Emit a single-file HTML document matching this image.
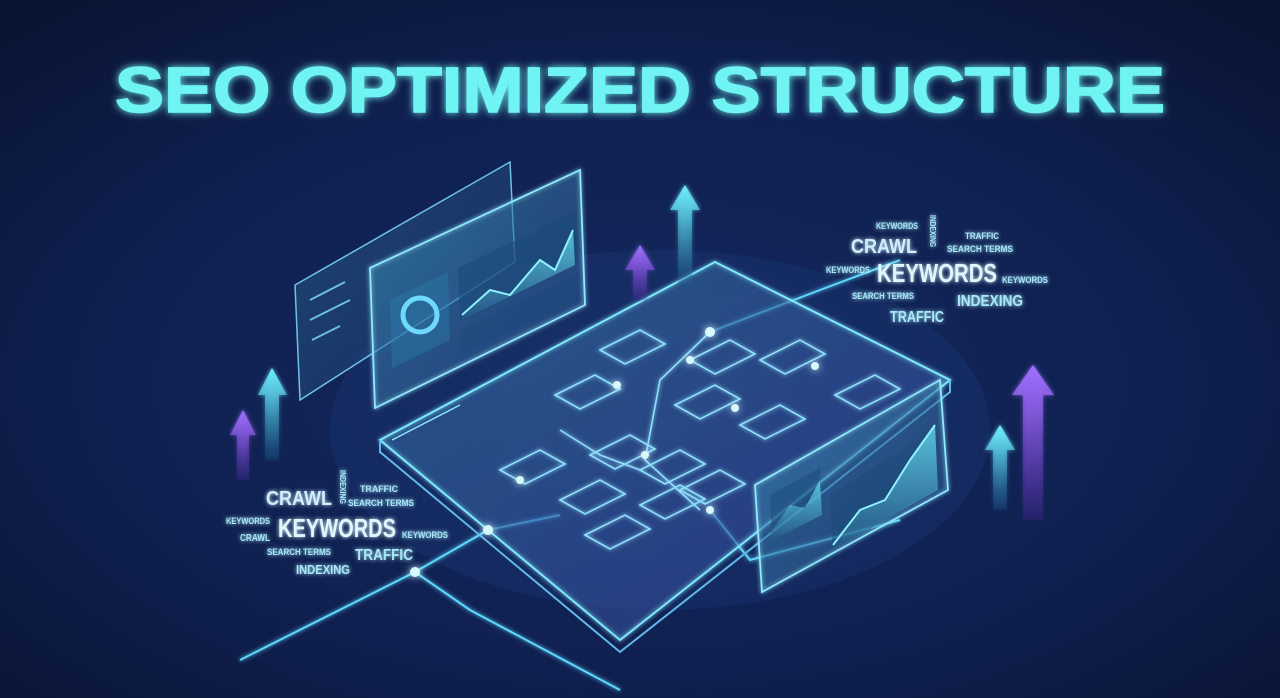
<!DOCTYPE html>
<html><head><meta charset="utf-8"><style>
html,body{margin:0;padding:0;width:1280px;height:698px;overflow:hidden;background:#0b1838}
svg{display:block}
text{font-family:"Liberation Sans",sans-serif}
</style></head><body>
<svg width="1280" height="698" viewBox="0 0 1280 698" xmlns="http://www.w3.org/2000/svg">
<defs>
<radialGradient id="bg" cx="50%" cy="55%" r="70%">
<stop offset="0" stop-color="#15295e"/><stop offset="0.6" stop-color="#0f2050"/><stop offset="1" stop-color="#0a1535"/></radialGradient>
<linearGradient id="plat" x1="0" y1="0" x2="1" y2="1"><stop offset="0" stop-color="#2a6f9a" stop-opacity=".4"/><stop offset="1" stop-color="#3a3f9a" stop-opacity=".35"/></linearGradient>
<linearGradient id="pan" x1="0" y1="0" x2="1" y2="1"><stop offset="0" stop-color="#3a8fb0" stop-opacity=".4"/><stop offset="1" stop-color="#2a4a8a" stop-opacity=".3"/></linearGradient>
<linearGradient id="arC" x1="0" y1="1" x2="0" y2="0"><stop offset="0" stop-color="#1a5a8a" stop-opacity=".2"/><stop offset="1" stop-color="#6ff0ff"/></linearGradient>
<linearGradient id="arP" x1="0" y1="1" x2="0" y2="0"><stop offset="0" stop-color="#4a2a9a" stop-opacity=".2"/><stop offset="1" stop-color="#a070ff"/></linearGradient>
<linearGradient id="chart" x1="0" y1="0" x2="0" y2="1"><stop offset="0" stop-color="#6ff0ff" stop-opacity=".7"/><stop offset="1" stop-color="#6ff0ff" stop-opacity=".05"/></linearGradient>
<filter id="glow" x="-20%" y="-50%" width="140%" height="200%"><feGaussianBlur stdDeviation="4" result="b"/><feMerge><feMergeNode in="b"/><feMergeNode in="SourceGraphic"/></feMerge></filter>
<filter id="g2"><feGaussianBlur stdDeviation="2" result="b"/><feMerge><feMergeNode in="b"/><feMergeNode in="SourceGraphic"/></feMerge></filter>
</defs>
<rect width="1280" height="698" fill="url(#bg)"/>
<ellipse cx="660" cy="430" rx="330" ry="180" fill="#2a5aa8" opacity=".15"/>
<text x="640" y="112" text-anchor="middle" font-size="64" font-weight="bold" fill="#6ff3f3" stroke="#6ff3f3" stroke-width="1.5" textLength="1050" lengthAdjust="spacingAndGlyphs" filter="url(#glow)">SEO OPTIMIZED STRUCTURE</text>

<g stroke="#5fd8ff" stroke-width="2" fill="none" filter="url(#g2)">
<path d="M240 660 L415 572 L470 610 L620 690"/>
<path d="M415 572 L488 530 L560 515"/>
<path d="M710 332 L820 290 L900 260"/>
<path d="M710 510 L750 560 L900 520"/>
</g>

<path d="M380 440 L715 262 L950 380 L620 640 Z" fill="url(#plat)" stroke="#7fe8ff" stroke-width="2" filter="url(#g2)"/>
<path d="M380 440 L380 452 L620 652 L950 392 L950 380" fill="none" stroke="#5fb8e8" stroke-width="2"/>
<path d="M392 440 L460 405" stroke="#8fe8ff" stroke-width="1.5"/>
<g fill="none" stroke="#8fe0ff" stroke-width="1.6" filter="url(#g2)">
<path d="M500 470 l40 -20 l25 14 l-40 20 z"/><path d="M560 500 l40 -20 l25 14 l-40 20 z"/>
<path d="M585 535 l40 -20 l25 14 l-40 20 z"/><path d="M590 455 l40 -20 l25 14 l-40 20 z"/>
<path d="M555 395 l40 -20 l25 14 l-40 20 z"/><path d="M600 350 l40 -20 l25 14 l-40 20 z"/>
<path d="M640 470 l40 -20 l25 14 l-40 20 z"/><path d="M680 490 l40 -20 l25 14 l-40 20 z"/>
<path d="M675 405 l40 -20 l25 14 l-40 20 z"/><path d="M740 425 l40 -20 l25 14 l-40 20 z"/>
<path d="M690 360 l40 -20 l25 14 l-40 20 z"/><path d="M760 360 l40 -20 l25 14 l-40 20 z"/>
<path d="M835 395 l40 -20 l25 14 l-40 20 z"/><path d="M640 505 l40 -20 l25 14 l-40 20 z"/>
<path d="M710 332 L660 380 L645 460 L700 510"/><path d="M560 430 L600 455 L640 470"/>
</g>
<g fill="#d8f8ff" filter="url(#glow)">
<circle cx="710" cy="332" r="5"/><circle cx="617" cy="385" r="4"/><circle cx="520" cy="480" r="4"/><circle cx="645" cy="455" r="4"/>
<circle cx="735" cy="408" r="4"/><circle cx="815" cy="366" r="4"/><circle cx="710" cy="510" r="4"/><circle cx="488" cy="530" r="5"/><circle cx="415" cy="572" r="5"/><circle cx="690" cy="360" r="4"/>
</g>

<path d="M295 285 L510 162 L515 262 L300 400 Z" fill="url(#pan)" stroke="#7fe0ff" stroke-width="1.5" opacity=".85"/>
<path d="M370 268 L580 170 L585 305 L375 408 Z" fill="url(#pan)" stroke="#8fe8ff" stroke-width="1.8" filter="url(#g2)"/>
<g stroke="#7fe0ff" stroke-width="2" opacity=".8">
<line x1="310" y1="300" x2="345" y2="282"/><line x1="310" y1="320" x2="350" y2="300"/><line x1="312" y1="340" x2="340" y2="326"/>
</g>
<path d="M390 300 L448 272 L450 340 L392 368 Z" fill="#2a7aa8" opacity=".45"/>
<circle cx="420" cy="315" r="17" fill="none" stroke="#6fd8ff" stroke-width="5"/>
<path d="M458 268 L575 212 L577 265 L460 322 Z" fill="#1a4a7a" opacity=".6"/>
<path d="M462 315 L490 290 L510 295 L540 260 L555 270 L573 230 L575 265 L462 320 Z" fill="url(#chart)"/>
<path d="M462 315 L490 290 L510 295 L540 260 L555 270 L573 230" fill="none" stroke="#8ff0ff" stroke-width="2"/>
<path d="M460 330 L575 275 L577 300 L460 355 Z" fill="#1a4a7a" opacity=".5"/>

<path d="M755 485 L940 380 L948 490 L762 592 Z" fill="url(#pan)" stroke="#8fe8ff" stroke-width="1.8" filter="url(#g2)"/>
<path d="M830 495 L935 430 L938 490 L833 550 Z" fill="#1a4a7a" opacity=".5"/>
<path d="M833 545 L860 510 L885 500 L910 460 L935 425 L938 490 L833 550 Z" fill="url(#chart)"/>
<path d="M833 545 L860 510 L885 500 L910 460 L935 425" fill="none" stroke="#8ff0ff" stroke-width="2"/>
<path d="M770 495 L820 468 L822 515 L772 540 Z" fill="#1a4a7a" opacity=".5"/>
<path d="M772 530 L790 505 L805 508 L820 480 L822 515 L772 540 Z" fill="url(#chart)"/>

<g filter="url(#g2)">
<path d="M670 210 L685 185 L700 210 L692 210 L692 285 L678 285 L678 210 Z" fill="url(#arC)"/>
<path d="M625 270 L640 245 L655 270 L647 270 L647 300 L633 300 L633 270 Z" fill="url(#arP)"/>
<path d="M258 395 L272 368 L287 395 L279 395 L279 460 L265 460 L265 395 Z" fill="url(#arC)"/>
<path d="M230 435 L243 410 L256 435 L249 435 L249 480 L237 480 L237 435 Z" fill="url(#arP)"/>
<path d="M1012 395 L1033 365 L1054 395 L1043 395 L1043 520 L1023 520 L1023 395 Z" fill="url(#arP)"/>
<path d="M985 450 L1000 425 L1015 450 L1007 450 L1007 510 L993 510 L993 450 Z" fill="url(#arC)"/>
</g>

<g fill="#a8e8f8" filter="url(#g2)" font-weight="bold">
<text x="876" y="229" font-size="9" textLength="42" lengthAdjust="spacingAndGlyphs">KEYWORDS</text>
<text x="930" y="215" font-size="8" transform="rotate(90 930 215)" textLength="32" lengthAdjust="spacingAndGlyphs">INDEXING</text>
<text x="965" y="239" font-size="9" textLength="34" lengthAdjust="spacingAndGlyphs">TRAFFIC</text>
<text x="851" y="253" font-size="20" fill="#cfefff" textLength="66" lengthAdjust="spacingAndGlyphs">CRAWL</text>
<text x="947" y="252" font-size="9" textLength="66" lengthAdjust="spacingAndGlyphs">SEARCH TERMS</text>
<text x="826" y="273" font-size="9" textLength="44" lengthAdjust="spacingAndGlyphs">KEYWORDS</text>
<text x="877" y="282" font-size="26" fill="#e0f6ff" textLength="120" lengthAdjust="spacingAndGlyphs">KEYWORDS</text>
<text x="1002" y="283" font-size="9" textLength="46" lengthAdjust="spacingAndGlyphs">KEYWORDS</text>
<text x="852" y="299" font-size="9" textLength="62" lengthAdjust="spacingAndGlyphs">SEARCH TERMS</text>
<text x="957" y="306" font-size="16" textLength="66" lengthAdjust="spacingAndGlyphs">INDEXING</text>
<text x="890" y="322" font-size="16" textLength="54" lengthAdjust="spacingAndGlyphs">TRAFFIC</text>

<text x="266" y="505" font-size="20" fill="#cfefff" textLength="66" lengthAdjust="spacingAndGlyphs">CRAWL</text>
<text x="340" y="470" font-size="8" transform="rotate(90 340 470)" textLength="34" lengthAdjust="spacingAndGlyphs">INDEXING</text>
<text x="360" y="492" font-size="9" textLength="38" lengthAdjust="spacingAndGlyphs">TRAFFIC</text>
<text x="348" y="506" font-size="9" textLength="66" lengthAdjust="spacingAndGlyphs">SEARCH TERMS</text>
<text x="226" y="524" font-size="9" textLength="44" lengthAdjust="spacingAndGlyphs">KEYWORDS</text>
<text x="278" y="537" font-size="26" fill="#e0f6ff" textLength="118" lengthAdjust="spacingAndGlyphs">KEYWORDS</text>
<text x="402" y="538" font-size="9" textLength="46" lengthAdjust="spacingAndGlyphs">KEYWORDS</text>
<text x="240" y="541" font-size="10" textLength="30" lengthAdjust="spacingAndGlyphs">CRAWL</text>
<text x="267" y="555" font-size="9" textLength="64" lengthAdjust="spacingAndGlyphs">SEARCH TERMS</text>
<text x="355" y="560" font-size="16" textLength="58" lengthAdjust="spacingAndGlyphs">TRAFFIC</text>
<text x="296" y="574" font-size="13" textLength="54" lengthAdjust="spacingAndGlyphs">INDEXING</text>
</g>
</svg>
</body></html>
